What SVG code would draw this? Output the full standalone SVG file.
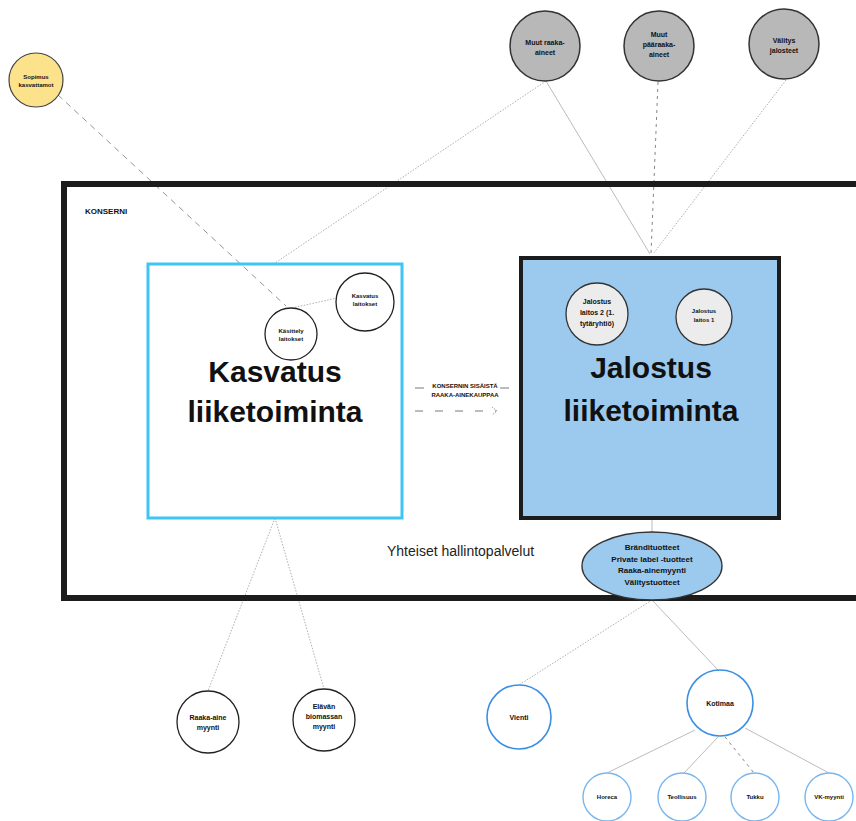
<svg xmlns="http://www.w3.org/2000/svg" width="856" height="821" viewBox="0 0 856 821">
<style>
text{font-family:"Liberation Sans","Open Sans",sans-serif;fill:#111;text-anchor:middle}
.sm{font-size:7px;font-weight:700}
.xs{font-size:6px;font-weight:700}
.big{font-size:30px;font-weight:700}
.gray{fill:#b8b8b8;stroke:#333;stroke-width:1.5}
.wc{fill:#fff;stroke:#222;stroke-width:1.3}
.bc{fill:#fff;stroke:#3b8fe3;stroke-width:1.6}
.lbc{fill:#fff;stroke:#79b6ee;stroke-width:1.4}
.ln{stroke:#aaa;stroke-width:0.8;fill:none}
.dot{stroke:#999;stroke-width:0.8;stroke-dasharray:1.5 1.5;fill:none}
.dash{stroke:#777;stroke-width:0.9;stroke-dasharray:3 4;fill:none}
.ldash{stroke:#888;stroke-width:0.9;stroke-dasharray:6 5;fill:none}
</style>
<g id="connectors">
<line class="ldash" x1="58" y1="95" x2="286" y2="306"/>
<line class="dot" x1="546" y1="81" x2="275" y2="263"/>
<line class="ln" x1="546" y1="81" x2="650" y2="254"/>
<line class="dash" x1="658" y1="82" x2="651" y2="254"/>
<line class="dot" x1="786" y1="80" x2="653" y2="254"/>
<line class="dot" x1="292" y1="308" x2="337" y2="298"/>
<line class="ln" x1="652" y1="519" x2="652" y2="532"/>
<line class="dot" x1="652" y1="600" x2="519" y2="685"/>
<line class="ln" x1="652" y1="600" x2="718" y2="670"/>
<line class="dot" x1="275" y1="518" x2="208" y2="691"/>
<line class="dot" x1="275" y1="518" x2="324" y2="689"/>
<line class="ln" x1="695" y1="730" x2="607" y2="773"/>
<line class="ln" x1="718" y1="737" x2="684" y2="773"/>
<line class="dash" x1="725" y1="737" x2="754" y2="773"/>
<line class="ln" x1="745" y1="728" x2="829" y2="773"/>
</g>
<g id="konserni">
<rect x="64" y="184" width="800" height="414" fill="none" stroke="#1c1c1c" stroke-width="6"/>
<text x="85" y="214" style="font-size:8px;font-weight:700;text-anchor:start">KONSERNI</text>
</g>
<g id="kasvatus">
<rect x="148" y="264" width="254" height="254" fill="none" stroke="#3ec5f5" stroke-width="3"/>
<text class="big" x="275" y="382">Kasvatus</text>
<text class="big" x="275" y="422">liiketoiminta</text>
</g>
<g id="jalostus">
<rect x="521" y="258" width="258" height="260" fill="#9cc9ee" stroke="#1c1c1c" stroke-width="4"/>
<text class="big" x="651" y="378">Jalostus</text>
<text class="big" x="651" y="421">liiketoiminta</text>
</g>
<g id="sopimus">
<circle cx="36" cy="80" r="27" fill="#fde28c" stroke="#444" stroke-width="1.2"/>
<text class="xs" x="36" y="79">Sopimus</text>
<text class="xs" x="36" y="87">kasvattamot</text>
</g>
<g id="muut-raaka">
<circle class="gray" cx="545" cy="46" r="35"/>
<text class="sm" x="545" y="45">Muut raaka-</text>
<text class="sm" x="545" y="55">aineet</text>
</g>
<g id="muut-paaraaka">
<circle class="gray" cx="659" cy="46" r="35"/>
<text class="sm" x="659" y="37">Muut</text>
<text class="sm" x="659" y="47">pääraaka-</text>
<text class="sm" x="659" y="57">aineet</text>
</g>
<g id="valitys">
<circle class="gray" cx="784" cy="44" r="35"/>
<text class="sm" x="784" y="43">Välitys</text>
<text class="sm" x="784" y="53">jalosteet</text>
</g>
<g id="kasittely">
<circle class="wc" cx="291" cy="334" r="26"/>
<text class="xs" x="291" y="333">Käsittely</text>
<text class="xs" x="291" y="341">laitokset</text>
</g>
<g id="kasvatus-laitokset">
<circle class="wc" cx="365" cy="302" r="29"/>
<text class="xs" x="365" y="298">Kasvatus</text>
<text class="xs" x="365" y="306">laitokset</text>
</g>
<g id="jalostus-2">
<circle cx="597" cy="314" r="31" fill="#ececec" stroke="#333" stroke-width="1.3"/>
<text class="sm" x="597" y="304">Jalostus</text>
<text class="sm" x="597" y="315">laitos 2 (1.</text>
<text class="sm" x="597" y="326">tytäryhtiö)</text>
</g>
<g id="jalostus-1">
<circle cx="704" cy="317" r="28" fill="#ececec" stroke="#333" stroke-width="1.3"/>
<text class="xs" x="704" y="313">Jalostus</text>
<text class="xs" x="704" y="322">laitos 1</text>
</g>
<g id="sisainen">
<text style="font-size:6px;font-weight:700" x="465" y="388">KONSERNIN SISÄISTÄ</text>
<text style="font-size:6px;font-weight:700" x="465" y="397">RAAKA-AINEKAUPPAA</text>
<line x1="415" y1="388" x2="424" y2="388" stroke="#555" stroke-width="0.8"/>
<line x1="500" y1="388" x2="509" y2="388" stroke="#555" stroke-width="0.8"/>
<line x1="415" y1="411" x2="496" y2="411" stroke="#555" stroke-width="0.8" stroke-dasharray="8 12"/>
<polyline points="492,407 497,411 492,415" fill="none" stroke="#777" stroke-width="0.7" stroke-dasharray="1.5 1"/>
</g>
<g id="yhteiset">
<text x="387" y="556" style="font-size:14px;text-anchor:start;fill:#222">Yhteiset hallintopalvelut</text>
</g>
<g id="tuotteet">
<ellipse cx="652" cy="566" rx="70" ry="34" fill="#9cc9ee" stroke="#333" stroke-width="1.4"/>
<text class="sm" x="652" y="550" style="font-size:8px">Brändituotteet</text>
<text class="sm" x="652" y="562" style="font-size:8px">Private label -tuotteet</text>
<text class="sm" x="652" y="573" style="font-size:8px">Raaka-ainemyynti</text>
<text class="sm" x="652" y="585" style="font-size:8px">Välitystuotteet</text>
</g>
<g id="raaka-aine-myynti">
<circle class="wc" cx="208" cy="722" r="31"/>
<text class="sm" x="208" y="720">Raaka-aine</text>
<text class="sm" x="208" y="730">myynti</text>
</g>
<g id="elavan">
<circle class="wc" cx="324" cy="720" r="31"/>
<text class="sm" x="324" y="709">Elävän</text>
<text class="sm" x="324" y="719">biomassan</text>
<text class="sm" x="324" y="729">myynti</text>
</g>
<g id="vienti">
<circle class="bc" cx="519" cy="717" r="32"/>
<text class="sm" x="519" y="720">Vienti</text>
</g>
<g id="kotimaa">
<circle class="bc" cx="720" cy="703" r="33"/>
<text class="sm" x="720" y="706">Kotimaa</text>
</g>
<g id="horeca">
<circle class="lbc" cx="607" cy="797" r="24"/>
<text class="xs" x="607" y="799">Horeca</text>
</g>
<g id="teollisuus">
<circle class="lbc" cx="682" cy="797" r="24"/>
<text class="xs" x="682" y="799">Teollisuus</text>
</g>
<g id="tukku">
<circle class="lbc" cx="755" cy="797" r="24"/>
<text class="xs" x="755" y="799">Tukku</text>
</g>
<g id="vk-myynti">
<circle class="lbc" cx="829" cy="797" r="24"/>
<text class="xs" x="829" y="799">VK-myynti</text>
</g>
</svg>
